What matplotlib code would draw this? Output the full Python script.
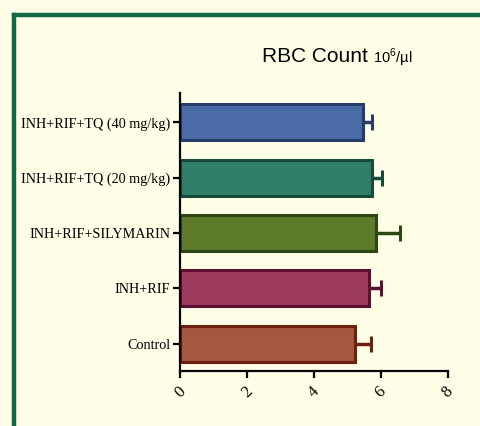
import matplotlib.pyplot as plt
from matplotlib.lines import Line2D

groups = ['Control', 'INH+RIF', 'INH+RIF+SILYMARIN',
          'INH+RIF+TQ (20 mg/kg)', 'INH+RIF+TQ (40 mg/kg)']
means = [5.23, 5.64, 5.84, 5.74, 5.46]
sems = [0.47, 0.36, 0.72, 0.30, 0.28]
fills = ['#A6573F', '#9E3A5E', '#5E7A2B', '#2E7E68', '#4A6BA6']
edges = ['#6E1F0F', '#5C0F30', '#2E4514', '#174A3A', '#263D6A']
xticks = [0, 2, 4, 6, 8]

bg = '#FFFFE8'
plt.rcParams['mathtext.fontset'] = 'custom'
plt.rcParams['mathtext.rm'] = 'Liberation Sans'

fig = plt.figure(figsize=(4.8, 4.26), dpi=100, facecolor=bg)
ax = fig.add_axes([0.375, 0.129, 0.558, 0.653])
ax.set_facecolor(bg)

for i, (m, s, fc, ec) in enumerate(zip(means, sems, fills, edges)):
    ax.barh(i, m, height=0.65, color=fc, edgecolor=ec, linewidth=2.2, zorder=2)
    ax.errorbar(m, i, xerr=[[0], [s]], fmt='none', ecolor=ec,
                elinewidth=2.5, capsize=6, capthick=2.2, zorder=1)

ax.set_xlim(0, 8)
ax.set_ylim(-0.49, 4.53)
ax.set_xticks(xticks)
ax.set_xticklabels([str(t) for t in xticks], rotation=45, ha='center',
                   fontsize=12, family=['Liberation Serif', 'DejaVu Serif'])
ax.set_yticks(range(len(groups)))
ax.set_yticklabels(groups, fontsize=10.2, family=['Liberation Serif', 'DejaVu Serif'])
for sp in ['top', 'right']:
    ax.spines[sp].set_visible(False)
for sp in ['left', 'bottom']:
    ax.spines[sp].set_linewidth(1.6)
ax.tick_params(axis='both', direction='out', width=1.6, length=5, color='black')
ax.tick_params(axis='x', pad=4)
ax.tick_params(axis='y', pad=2)

t = fig.text(0.545, 0.854, 'RBC Count', fontsize=15,
             family=['Liberation Sans', 'DejaVu Sans'], va='baseline')
ax.annotate(r'10$^{6}$/µl', xy=(1, 0), xycoords=t, xytext=(4, 2.5),
            textcoords='offset points', fontsize=10.5, va='baseline',
            family=['Liberation Sans', 'DejaVu Sans'], annotation_clip=False)

# green frame
fx = 14 / 480
fy = 1 - 15 / 426
fig.add_artist(Line2D([fx, fx], [-0.05, fy], transform=fig.transFigure,
                      color='#0E6B45', linewidth=3.2, solid_capstyle='projecting'))
fig.add_artist(Line2D([fx, 1.05], [fy, fy], transform=fig.transFigure,
                      color='#0E6B45', linewidth=3.2, solid_capstyle='projecting'))

fig.savefig('out.png', dpi=100, facecolor=bg)
